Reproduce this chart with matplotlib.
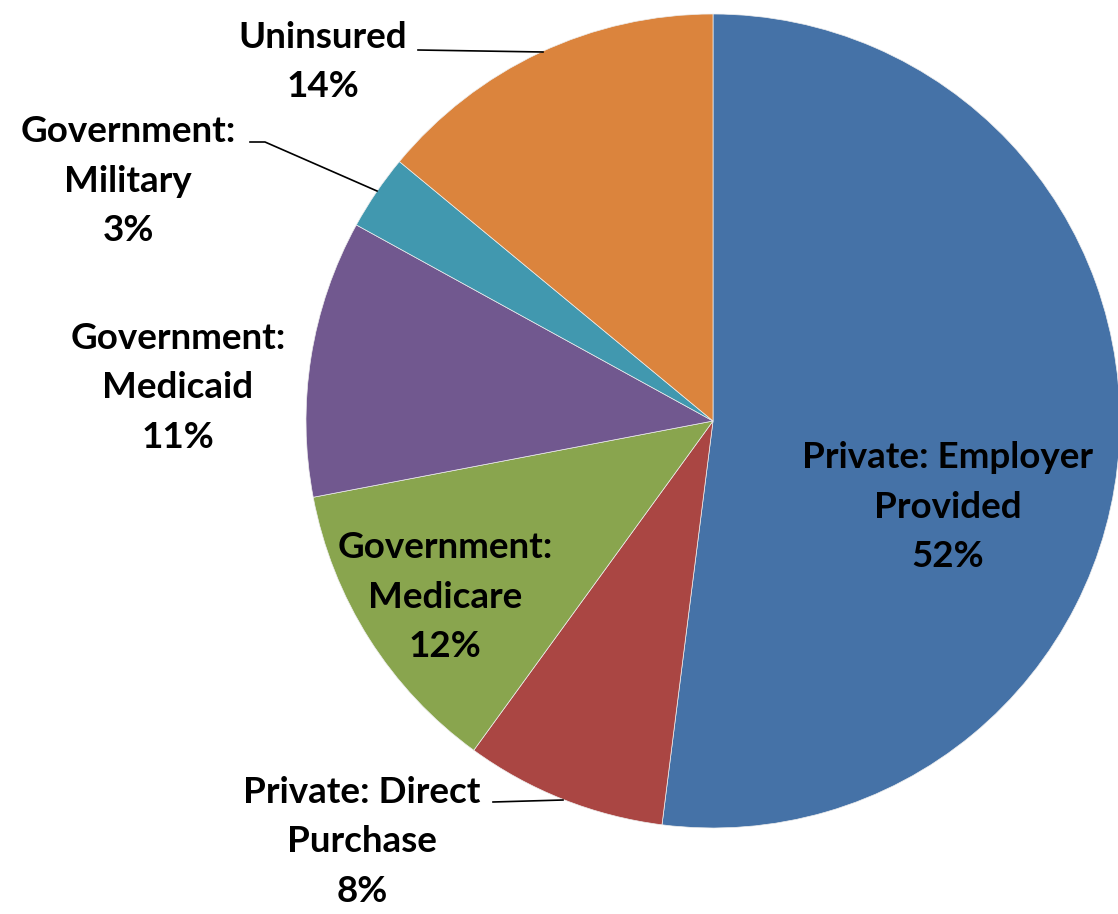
import matplotlib.pyplot as plt

# health insurance coverage shares (%)
categories = ['Private: Employer\nProvided', 'Private: Direct\nPurchase',
              'Government:\nMedicare', 'Government:\nMedicaid',
              'Government:\nMilitary', 'Uninsured']
shares = [52, 8, 12, 11, 3, 14]
colors = ['#4572A7', '#AA4643', '#89A54E', '#71588F', '#4198AF', '#DB843D']

W, H = 1118, 914
fig = plt.figure(figsize=(W / 100, H / 100), dpi=100)
ax = fig.add_axes([0, 0, 1, 1])

cx, cy, r = 713, H - 421, 407
ax.pie(shares, colors=colors, startangle=90, counterclock=False,
       center=(cx, cy), radius=r, wedgeprops=dict(linewidth=0.5, edgecolor='#eeeeee'))
ax.set_xlim(0, W)
ax.set_ylim(0, H)
ax.set_aspect('equal')
ax.axis('off')

# label anchor (pixel coords from top-left, centre of the text block)
label_pos = [(948, 507), (362, 842), (445, 597), (178, 388), (128, 181), (323, 62)]
for name, val, (px, py) in zip(categories, shares, label_pos):
    ax.text(px, H - py, f'{name}\n{val}%', ha='center', va='center',
            fontsize=26.5, fontweight='bold', family='Lato', linespacing=1.6)

# leader lines for the labels outside the pie
leaders = [
    [(418, 50), (543, 52)],
    [(250, 142), (265, 142), (377, 191)],
    [(493, 802), (563, 800)],
]
for pts in leaders:
    xs = [p[0] for p in pts]
    ys = [H - p[1] for p in pts]
    ax.plot(xs, ys, color='black', linewidth=1.2)

fig.savefig('out.png', dpi=100)
